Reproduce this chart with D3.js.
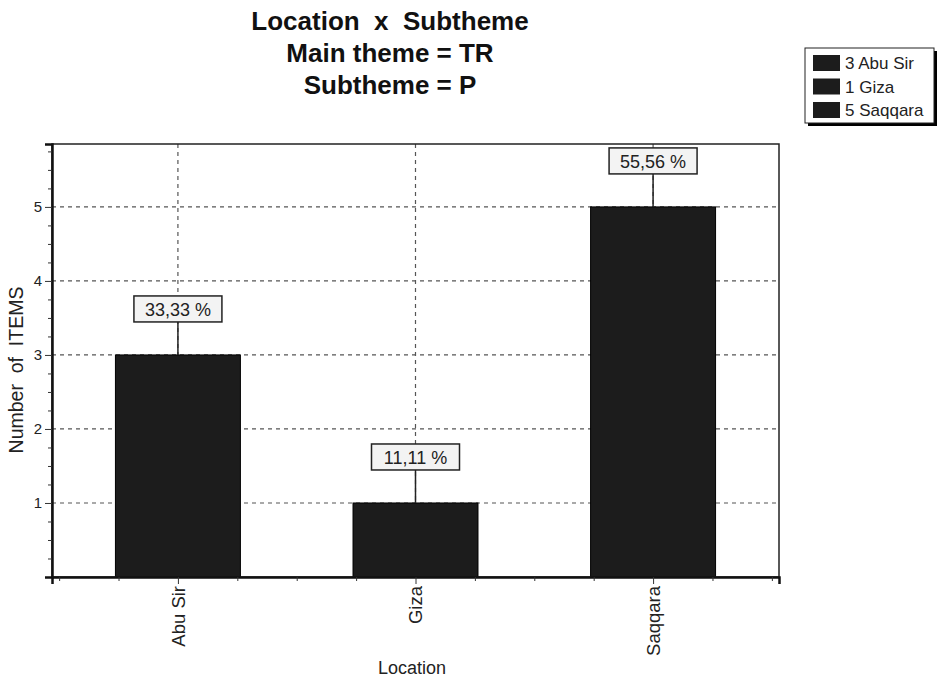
<!DOCTYPE html>
<html>
<head>
<meta charset="utf-8">
<script src="https://cdn.jsdelivr.net/npm/d3@7"></script>
<style>
body { margin:0; background:#fff; }
svg text { font-family: "Liberation Sans", Arial, sans-serif; white-space: pre; }
</style>
</head>
<body>
<svg id="chart"></svg>
<script>
// data
var locations = ["Abu Sir", "Giza", "Saqqara"]
var counts = [3, 1, 5]
var percents = ["33,33 %", "11,11 %", "55,56 %"]
var legendLabels = ["3 Abu Sir", "1 Giza", "5 Saqqara"]
var yTicks = [1, 2, 3, 4, 5]
var titleLines = ["Location  x  Subtheme", "Main theme = TR", "Subtheme = P"]

var screen = {width:938, height:678}
var plot = {left:52, top:144, right:779, bottom:577}

var svg = d3.select("#chart")
    .attr("width", screen.width)
    .attr("height", screen.height)

// x is linear over category index so the quarter ticks line up
var xScale = d3.scaleLinear()
    .domain([-0.53, 2.53])
    .range([plot.left, plot.right])
var yScale = d3.scaleLinear()
    .domain([0, 5.85])
    .range([plot.bottom, plot.top])

var barHalf = 0.263

// title
svg.append("g")
    .selectAll("text")
    .data(titleLines)
    .enter()
    .append("text")
    .attr("x", 390)
    .attr("y", function(d, i){ return 30 + i * 32 })
    .attr("text-anchor", "middle")
    .attr("font-size", "26px")
    .attr("font-weight", "bold")
    .attr("fill", "#111")
    .text(function(d){ return d })

// grid
var grid = svg.append("g").attr("id", "grid")
grid.selectAll("line.h")
    .data(yTicks)
    .enter()
    .append("line")
    .attr("class", "h")
    .attr("x1", plot.left).attr("x2", plot.right)
    .attr("y1", function(d){ return yScale(d) })
    .attr("y2", function(d){ return yScale(d) })
grid.selectAll("line.v")
    .data(locations)
    .enter()
    .append("line")
    .attr("class", "v")
    .attr("x1", function(d, i){ return xScale(i) })
    .attr("x2", function(d, i){ return xScale(i) })
    .attr("y1", plot.top).attr("y2", plot.bottom)
grid.selectAll("line")
    .attr("stroke", "#555")
    .attr("stroke-width", 1.2)
    .attr("stroke-dasharray", "4,4")

// bars
svg.append("g")
    .selectAll("rect")
    .data(counts)
    .enter()
    .append("rect")
    .attr("x", function(d, i){ return xScale(i - barHalf) })
    .attr("width", function(d, i){ return xScale(i + barHalf) - xScale(i - barHalf) })
    .attr("y", function(d){ return yScale(d) })
    .attr("height", function(d){ return yScale(0) - yScale(d) })
    .attr("fill", "#1c1c1c")
    .attr("stroke", "#000")
    .attr("stroke-width", 1)

// percentage labels with a stem
var labels = svg.append("g")
    .selectAll("g")
    .data(counts)
    .enter()
    .append("g")
labels.append("line")
    .attr("x1", function(d, i){ return xScale(i) })
    .attr("x2", function(d, i){ return xScale(i) })
    .attr("y1", function(d){ return yScale(d) })
    .attr("y2", function(d){ return yScale(d) - 33 })
    .attr("stroke", "#222")
    .attr("stroke-width", 1.5)
labels.append("rect")
    .attr("x", function(d, i){ return xScale(i) - 44 })
    .attr("y", function(d){ return yScale(d) - 59 })
    .attr("width", 88)
    .attr("height", 26)
    .attr("fill", "#f3f3f3")
    .attr("stroke", "#222")
    .attr("stroke-width", 1.5)
labels.append("text")
    .attr("x", function(d, i){ return xScale(i) })
    .attr("y", function(d){ return yScale(d) - 39 })
    .attr("text-anchor", "middle")
    .attr("font-size", "18px")
    .attr("fill", "#222")
    .text(function(d, i){ return percents[i] })

// frame
svg.append("rect")
    .attr("x", plot.left).attr("y", plot.top)
    .attr("width", plot.right - plot.left)
    .attr("height", plot.bottom - plot.top)
    .attr("fill", "none")
    .attr("stroke", "#222")
    .attr("stroke-width", 1.5)

// y axis: major ticks with labels, minor ticks every 0.25
var yAxis = d3.axisLeft(yScale)
    .tickValues(yTicks)
    .tickSize(7)
    .tickFormat(d3.format("d"))
svg.append("g")
    .attr("id", "yAxis")
    .attr("transform", "translate(" + plot.left + ",0)")
    .call(yAxis)
var yMinor = d3.range(0.25, 5.85, 0.25).filter(function(v){ return v % 1 != 0 })
svg.append("g")
    .attr("transform", "translate(" + plot.left + ",0)")
    .call(d3.axisLeft(yScale).tickValues(yMinor).tickSize(4).tickFormat(""))
    .select(".domain").remove()

// x axis
var xAxis = d3.axisBottom(xScale)
    .tickValues([0, 1, 2])
    .tickSize(7)
    .tickFormat(function(d){ return locations[d] })
var xg = svg.append("g")
    .attr("id", "xAxis")
    .attr("transform", "translate(0," + plot.bottom + ")")
    .call(xAxis)
var xMinor = [-0.5, -0.25, 0.25, 0.5, 0.75, 1.25, 1.5, 1.75, 2.25, 2.5]
svg.append("g")
    .attr("transform", "translate(0," + plot.bottom + ")")
    .call(d3.axisBottom(xScale).tickValues(xMinor).tickSize(4).tickFormat(""))
    .select(".domain").remove()

svg.selectAll("#xAxis .domain, #yAxis .domain")
    .attr("stroke", "#111")
    .attr("stroke-width", 2.5)
svg.selectAll(".tick line").attr("stroke", "#333")
svg.selectAll(".tick text")
    .attr("font-size", "15px")
    .attr("fill", "#222")
    .style("font-family", "Liberation Sans, Arial, sans-serif")
xg.selectAll("text")
    .attr("transform", "rotate(-90)")
    .attr("text-anchor", "end")
    .attr("x", -9)
    .attr("y", 0)
    .attr("dy", "0.35em")
    .attr("font-size", "18.5px")

// axis titles
svg.append("text")
    .attr("transform", "translate(23,370) rotate(-90)")
    .attr("text-anchor", "middle")
    .attr("font-size", "19.5px")
    .attr("fill", "#222")
    .text("Number  of  ITEMS")
svg.append("text")
    .attr("x", 412)
    .attr("y", 674)
    .attr("text-anchor", "middle")
    .attr("font-size", "18px")
    .attr("fill", "#222")
    .text("Location")

// legend with drop shadow
var legend = svg.append("g").attr("transform", "translate(805,48)")
legend.append("rect")
    .attr("x", 3).attr("y", 3)
    .attr("width", 129).attr("height", 75)
    .attr("fill", "#000")
legend.append("rect")
    .attr("width", 129).attr("height", 75)
    .attr("fill", "#fff")
    .attr("stroke", "#222")
var items = legend.selectAll("g.item")
    .data(legendLabels)
    .enter()
    .append("g")
    .attr("class", "item")
    .attr("transform", function(d, i){ return "translate(8," + (7 + i * 23.5) + ")" })
items.append("rect")
    .attr("width", 27).attr("height", 16)
    .attr("fill", "#1c1c1c")
items.append("text")
    .attr("x", 32)
    .attr("y", 14)
    .attr("font-size", "17px")
    .attr("fill", "#222")
    .text(function(d){ return d })
</script>
</body>
</html>
